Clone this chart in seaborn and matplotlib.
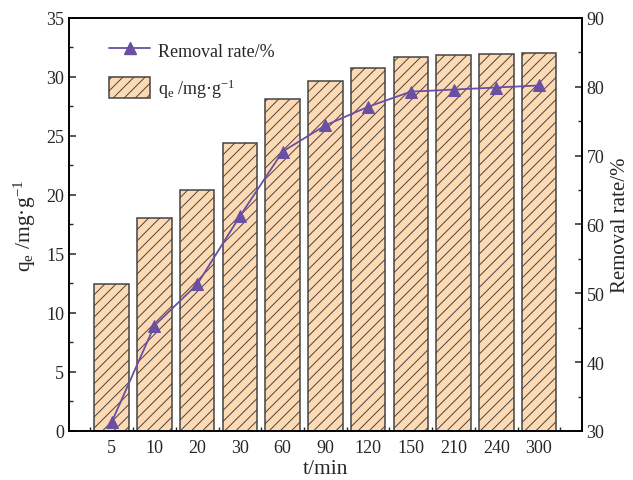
import matplotlib.pyplot as plt
import seaborn as sns
import numpy as np
from matplotlib.lines import Line2D
from matplotlib.patches import Patch
from matplotlib.ticker import MultipleLocator, FixedLocator

# data
t_labels = ['5', '10', '20', '30', '60', '90', '120', '150', '210', '240', '300']
qe = [12.45, 18.05, 20.4, 24.4, 28.1, 29.65, 30.8, 31.7, 31.85, 31.95, 32.05]
removal = [31.3, 45.3, 51.3, 61.2, 70.6, 74.4, 77.1, 79.3, 79.6, 79.9, 80.2]

bar_color = '#FDDAB4'
line_color = '#6A4FA3'

sns.set_style("ticks")
plt.rcParams['font.family'] = ['Liberation Serif', 'DejaVu Serif']
plt.rcParams['mathtext.fontset'] = 'custom'
plt.rcParams['mathtext.rm'] = 'Liberation Serif'
plt.rcParams['mathtext.it'] = 'Liberation Serif:italic'
plt.rcParams['hatch.linewidth'] = 0.7
plt.rcParams['hatch.color'] = '#333333'

fig, ax = plt.subplots(figsize=(6.33, 4.81), dpi=100)
fig.subplots_adjust(left=0.109, right=0.919, top=0.9605, bottom=0.102)

sns.barplot(x=t_labels, y=qe, ax=ax, color=bar_color, saturation=1,
            width=0.81, edgecolor='#444444', linewidth=1.1, zorder=2)
for p in ax.patches:
    p.set_hatch('///')

ax.set_xlim(-1, 11)
ax.set_ylim(0, 35)
ax.yaxis.set_major_locator(MultipleLocator(5))
ax.yaxis.set_minor_locator(MultipleLocator(2.5))
ax.xaxis.set_minor_locator(FixedLocator(np.arange(-0.5, 11, 1.0)))
ax.set_xlabel('t/min', fontsize=15.5, labelpad=2)
ax.set_ylabel('q$_\\mathrm{e}$ /mg·g$^{\\mathrm{-1}}$', fontsize=15.5, labelpad=6)

ax2 = ax.twinx()
x_pos = np.arange(len(t_labels))
sns.lineplot(x=x_pos, y=removal, ax=ax2, color=line_color, linewidth=1.3,
             marker='^', markersize=9, markeredgecolor=line_color, zorder=3)
ax2.set_ylim(30, 90)
ax2.yaxis.set_major_locator(MultipleLocator(10))
ax2.yaxis.set_minor_locator(MultipleLocator(5))
ax2.set_ylabel('Removal rate/%', fontsize=15, labelpad=5)
ax2.set_xlim(-1, 11)

for a in (ax, ax2):
    for s in a.spines.values():
        s.set_linewidth(1.2)
        s.set_color('black')
    a.tick_params(which='major', direction='in', length=5, width=1.1, labelsize=13)
    a.tick_params(which='minor', direction='in', length=3, width=1.0)
ax.tick_params(axis='y', which='both', left=True, right=False)
ax.tick_params(axis='x', which='both', top=False, pad=6)
ax2.tick_params(axis='y', which='both', right=True, left=False)

handles = [
    Line2D([0], [0], color=line_color, linewidth=1.3, marker='^', markersize=9),
    Patch(facecolor=bar_color, edgecolor='#444444', hatch='///', linewidth=1.1),
]
labels = ['Removal rate/%', 'q$_\\mathrm{e}$ /mg·g$^{\\mathrm{-1}}$']
ax2.legend(handles, labels, loc='upper left', bbox_to_anchor=(0.06, 0.97),
           frameon=False, fontsize=13, handlelength=2.3, handleheight=1.4,
           handletextpad=0.4, labelspacing=0.9, borderpad=0)

fig.savefig('out.png', dpi=100)
